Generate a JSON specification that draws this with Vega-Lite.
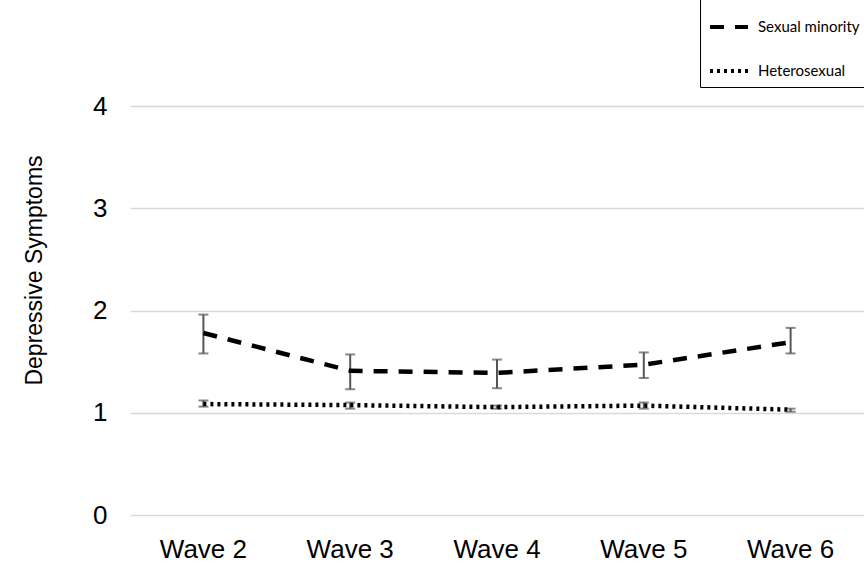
{
  "$schema": "https://vega.github.io/schema/vega-lite/v6.json",
  "autosize": {"type": "none"},
  "width": 734,
  "height": 409,
  "padding": {"left": 130, "top": 106, "right": 0, "bottom": 49},
  "background": "white",
  "config": {
    "view": {"stroke": null},
    "font": "Liberation Sans"
  },
  "data": {
    "values": [
      {"wave": "Wave 2", "group": "Sexual minority", "mean": 1.78, "lo": 1.58, "hi": 1.96},
      {"wave": "Wave 3", "group": "Sexual minority", "mean": 1.41, "lo": 1.23, "hi": 1.57},
      {"wave": "Wave 4", "group": "Sexual minority", "mean": 1.39, "lo": 1.24, "hi": 1.52},
      {"wave": "Wave 5", "group": "Sexual minority", "mean": 1.47, "lo": 1.34, "hi": 1.59},
      {"wave": "Wave 6", "group": "Sexual minority", "mean": 1.69, "lo": 1.58, "hi": 1.83},
      {"wave": "Wave 2", "group": "Heterosexual", "mean": 1.085, "lo": 1.06, "hi": 1.12},
      {"wave": "Wave 3", "group": "Heterosexual", "mean": 1.075, "lo": 1.04, "hi": 1.10},
      {"wave": "Wave 4", "group": "Heterosexual", "mean": 1.055, "lo": 1.04, "hi": 1.07},
      {"wave": "Wave 5", "group": "Heterosexual", "mean": 1.07, "lo": 1.04, "hi": 1.10},
      {"wave": "Wave 6", "group": "Heterosexual", "mean": 1.03, "lo": 1.01, "hi": 1.04}
    ]
  },
  "encoding": {
    "x": {
      "field": "wave", "type": "nominal", "title": null,
      "scale": {"paddingInner": 0, "paddingOuter": 0},
      "axis": {"labelAngle": 0, "labelFontSize": 26, "labelColor": "#000", "labelPadding": 21, "ticks": false, "domain": false, "grid": false}
    }
  },
  "layer": [
    {
      "mark": {"type": "rule", "color": "#555", "strokeWidth": 2},
      "encoding": {
        "y": {"field": "lo", "type": "quantitative", "scale": {"domain": [0, 4]},
          "title": "Depressive Symptoms",
          "axis": {"values": [0, 1, 2, 3, 4], "format": "d", "grid": true, "gridColor": "#d9d9d9", "gridWidth": 1.5, "domain": false, "ticks": false, "labelFontSize": 26, "labelColor": "#000", "labelPadding": 23, "titleFontSize": 23, "titleFontWeight": "normal", "titleColor": "#000", "titlePadding": 46, "titleY": 164}},
        "y2": {"field": "hi"}
      }
    },
    {
      "mark": {"type": "tick", "color": "#555", "orient": "horizontal", "size": 10, "thickness": 2},
      "encoding": {"y": {"field": "lo", "type": "quantitative"}}
    },
    {
      "mark": {"type": "tick", "color": "#555", "orient": "horizontal", "size": 10, "thickness": 2},
      "encoding": {"y": {"field": "hi", "type": "quantitative"}}
    },
    {
      "mark": {"type": "line", "color": "#000", "strokeWidth": 4.5},
      "encoding": {
        "y": {"field": "mean", "type": "quantitative"},
        "strokeDash": {
          "field": "group", "type": "nominal",
          "scale": {"domain": ["Sexual minority", "Heterosexual"], "range": [[14, 11], [3, 4]]},
          "legend": {
            "title": null, "orient": "none", "legendX": 570, "legendY": -108,
            "strokeColor": "#000", "padding": 8, "fillColor": "white",
            "labelFont": "Lato", "labelFontSize": 15, "labelColor": "#000", "labelLimit": 400,
            "symbolType": "stroke", "symbolSize": 1444, "symbolStrokeWidth": 4, "symbolStrokeColor": "#000",
            "rowPadding": 15, "labelOffset": 8
          }
        }
      }
    }
  ]
}
